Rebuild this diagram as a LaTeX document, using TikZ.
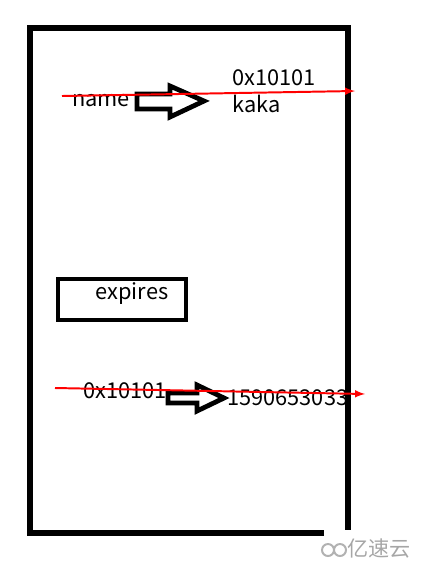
\documentclass[tikz,border=0pt]{standalone}
\usepackage{fontspec}
\setmainfont{Noto Sans CJK SC}
\usetikzlibrary{positioning,arrows}

\begin{document}
\begin{tikzpicture}[x=0.025cm,y=-0.025cm,
  txt/.style={inner sep=0pt,font=\fontsize{15.5}{15.5}\selectfont},
  redline/.style={red,line width=1.4pt,-latex},
  blockarrow/.style={line width=3.4pt,line join=miter}]
\useasboundingbox (0,0) rectangle (424,575);

% outer frame, open at the lower right corner
\draw[line width=3.6pt] (324,533) -- (30,533) -- (30,28) -- (348,28) -- (348,530);

% first row
\node[txt] (name) at (101,101) {name};
\node[txt,anchor=west] (addr) at (232,78) {0x10101};
\node[txt,anchor=west] (kaka) at (232,104) {kaka};
\draw[blockarrow] (137,94) -- (170,94) -- (170,86) -- (204,101) -- (170,117) -- (170,109) -- (137,109) -- cycle;
\coordinate (r1s) at (62,96);
\coordinate (r1e) at (355,91);
\draw[redline] (r1s) -- (r1e);

% expires box
\draw[line width=3pt] (58,279) rectangle (186,320);
\node[txt] (expires) at (132,294) {expires};

% second row
\node[txt,anchor=west] (addr2) at (83,391) {0x10101};
\node[txt,anchor=west] (stamp) at (227,398) {1590653033};
\draw[blockarrow] (168,393) -- (197,393) -- (197,385) -- (224,398) -- (197,411) -- (197,403) -- (168,403) -- cycle;
\coordinate (r2s) at (55,388);
\coordinate (r2e) at (365,394);
\draw[redline] (r2s) -- (r2e);

% watermark
\draw[gray!60,line width=1.4pt] (328,550) circle (6) (340,550) circle (6);
\node[txt,anchor=west,text=gray!70,font=\fontsize{15}{15}\selectfont] (wm) at (347,549) {亿速云};
\end{tikzpicture}
\end{document}
